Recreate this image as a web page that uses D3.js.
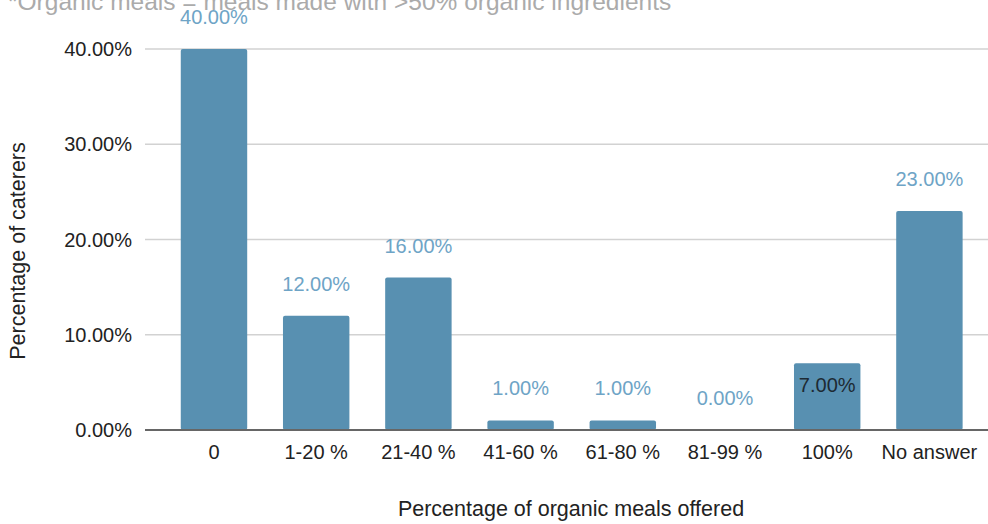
<!DOCTYPE html>
<html>
<head>
<meta charset="utf-8">
<script src="https://cdn.jsdelivr.net/npm/d3@7"></script>
<style>
html,body{margin:0;padding:0;background:#fff;}
svg{display:block;font-family:"Liberation Sans",Arial,sans-serif;}
</style>
</head>
<body>
<svg id="chart" width="988" height="524"></svg>
<script>
const categories = ["0", "1-20 %", "21-40 %", "41-60 %", "61-80 %", "81-99 %", "100%", "No answer"];
const values = [40, 12, 16, 1, 1, 0, 7, 23];
const yTicks = [0, 10, 20, 30, 40];
const titleText = "*Organic meals = meals made with >50% organic ingredients";
const xTitle = "Percentage of organic meals offered";
const yTitle = "Percentage of caterers";

const svg = d3.select("#chart");
const x = d3.scaleBand().domain(categories).range([145, 998.4]).paddingInner(0.35).paddingOuter(0.35);
const y = d3.scaleLinear().domain([0, 40]).range([430, 49]);
const fmt = v => v.toFixed(2) + "%";

// gridlines
svg.append("g").selectAll("line").data(yTicks.filter(t => t > 0)).join("line")
  .attr("x1", 145).attr("x2", 988)
  .attr("y1", d => y(d)).attr("y2", d => y(d))
  .attr("stroke", "#d2d2d2").attr("stroke-width", 1.5);

// y tick labels
svg.append("g").selectAll("text").data(yTicks).join("text")
  .attr("x", 132).attr("y", d => y(d) + 7)
  .attr("text-anchor", "end").attr("font-size", 20).attr("fill", "#222")
  .text(d => fmt(d));

// title (cut off at the top)
svg.append("text").attr("x", 8).attr("y", 10).attr("font-size", 24.5).attr("fill", "#ababab").text(titleText);

// bars
const data = categories.map((c, i) => ({c, v: values[i]}));
svg.append("g").selectAll("rect").data(data.filter(d => d.v > 0)).join("rect")
  .attr("x", d => x(d.c)).attr("width", x.bandwidth())
  .attr("y", d => y(d.v)).attr("height", d => y(0) - y(d.v))
  .attr("rx", 2).attr("fill", "#5890b1");

// baseline
svg.append("line").attr("x1", 145).attr("x2", 988).attr("y1", y(0)).attr("y2", y(0))
  .attr("stroke", "#666").attr("stroke-width", 2);

// value labels
svg.append("g").selectAll("text").data(data).join("text")
  .attr("x", d => x(d.c) + x.bandwidth() / 2)
  .attr("y", d => (d.v > 5 && d.v < 10) ? y(d.v) + 29 : y(d.v) - 25)
  .attr("text-anchor", "middle").attr("font-size", 20)
  .attr("fill", d => (d.v > 5 && d.v < 10) ? "#1d2a33" : "#6ea4c6")
  .text(d => fmt(d.v));

// x tick labels
svg.append("g").selectAll("text").data(categories).join("text")
  .attr("x", d => x(d) + x.bandwidth() / 2).attr("y", 459)
  .attr("text-anchor", "middle").attr("font-size", 20).attr("fill", "#222")
  .text(d => d);

// axis titles
svg.append("text").attr("x", 571).attr("y", 516).attr("text-anchor", "middle")
  .attr("font-size", 21.5).attr("fill", "#222").text(xTitle);
svg.append("text").attr("transform", "translate(25,251) rotate(-90)").attr("text-anchor", "middle")
  .attr("font-size", 21.5).attr("fill", "#222").text(yTitle);
</script>
</body>
</html>
